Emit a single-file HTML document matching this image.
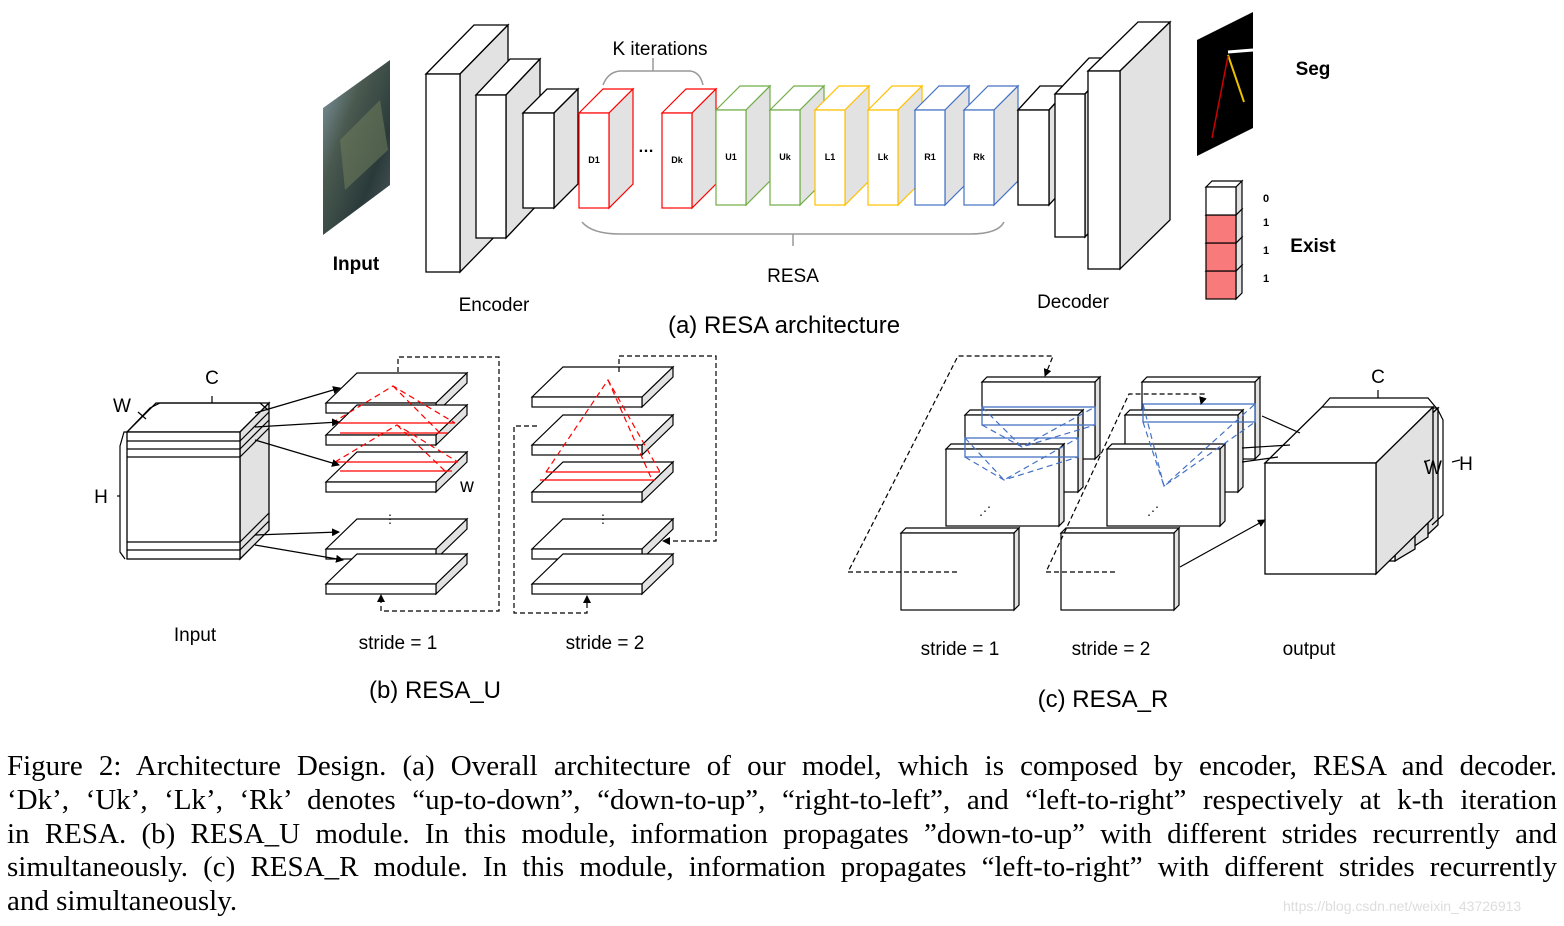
<!DOCTYPE html>
<html><head><meta charset="utf-8"><style>
html,body{margin:0;padding:0;background:#fff;}
#wrap{position:relative;width:1564px;height:926px;overflow:hidden;}
svg{position:absolute;left:0;top:0;}
svg text{font-family:"Liberation Sans",sans-serif;}
#cap{position:absolute;left:7px;top:750px;width:1550px;font-family:"Liberation Serif",serif;font-size:29px;line-height:33.8px;color:#000;}
#cap div{white-space:nowrap;text-align:justify;text-align-last:justify;}
#cap div.l{text-align-last:left;}
#wm{position:absolute;left:1283px;top:898px;font-family:"Liberation Sans",sans-serif;font-size:14px;color:#ddd;}
</style></head><body><div id="wrap">
<svg id="s" width="1564" height="926" xmlns="http://www.w3.org/2000/svg">
<defs>
<marker id="ar" markerWidth="8" markerHeight="8" refX="7" refY="4" orient="auto" markerUnits="userSpaceOnUse"><path d="M0,0 L8,4 L0,8 z" fill="#000"/></marker>
<linearGradient id="ph" x1="0" y1="0" x2="1" y2="1"><stop offset="0" stop-color="#8aa0b0"/><stop offset="0.35" stop-color="#4a5a50"/><stop offset="0.7" stop-color="#2a3a3a"/><stop offset="1" stop-color="#505a60"/></linearGradient>
</defs>
<g id="g"></g>
<polygon points="323,108 390,60 390,185 323,235" fill="url(#ph)"/>
<polygon points="340,140 380,100 388,150 345,190" fill="#6a7a5a" opacity="0.6"/>
<polygon points="1197,40 1253,12 1253,128 1197,156" fill="#000"/>
<line x1="1228" y1="52" x2="1253" y2="50" stroke="#fff" stroke-width="3"/>
<line x1="1228" y1="55" x2="1244" y2="102" stroke="#e8c000" stroke-width="2"/>
<line x1="1228" y1="56" x2="1212" y2="138" stroke="#c00" stroke-width="1.5"/>
<path d="M603,85 Q608,72 620,71 L690,71 Q700,72 703,85 M653,71 L653,58" fill="none" stroke="#999" stroke-width="1.5"/>
<path d="M582,222 Q592,234 620,234 L970,234 Q998,234 1004,222 M793,234 L793,246" fill="none" stroke="#999" stroke-width="1.5"/>
<text x="646" y="152" font-size="16" text-anchor="middle" font-weight="bold">…</text>
<text x="660" y="55" font-size="19" text-anchor="middle">K iterations</text>
<text x="793" y="282" font-size="19" text-anchor="middle">RESA</text>
<text x="356" y="270" font-size="19" text-anchor="middle" font-weight="bold">Input</text>
<text x="494" y="311" font-size="19" text-anchor="middle">Encoder</text>
<text x="1073" y="308" font-size="19" text-anchor="middle">Decoder</text>
<text x="784" y="333" font-size="24" text-anchor="middle">(a) RESA architecture</text>
<text x="1313" y="75" font-size="19" text-anchor="middle" font-weight="bold">Seg</text>
<text x="1313" y="252" font-size="19" text-anchor="middle" font-weight="bold">Exist</text>
<g font-size="11" font-weight="bold" text-anchor="middle"><text x="1266" y="202">0</text><text x="1266" y="226">1</text><text x="1266" y="254">1</text><text x="1266" y="282">1</text></g>
<text x="212" y="384" font-size="19" text-anchor="middle">C</text>
<text x="122" y="412" font-size="19" text-anchor="middle">W</text>
<text x="101" y="503" font-size="19" text-anchor="middle">H</text>
<text x="467" y="492" font-size="19" text-anchor="middle">w</text>
<text x="195" y="641" font-size="19" text-anchor="middle">Input</text>
<text x="398" y="649" font-size="19" text-anchor="middle">stride = 1</text>
<text x="605" y="649" font-size="19" text-anchor="middle">stride = 2</text>
<text x="435" y="698" font-size="24" text-anchor="middle">(b) RESA_U</text>
<text x="1378" y="383" font-size="19" text-anchor="middle">C</text>
<text x="1433" y="474" font-size="19" text-anchor="middle">W</text>
<text x="1466" y="470" font-size="19" text-anchor="middle">H</text>
<text x="960" y="655" font-size="19" text-anchor="middle">stride = 1</text>
<text x="1111" y="655" font-size="19" text-anchor="middle">stride = 2</text>
<text x="1309" y="655" font-size="19" text-anchor="middle">output</text>
<text x="1103" y="707" font-size="24" text-anchor="middle">(c) RESA_R</text>
</svg>
<div id="cap">
<div>Figure 2: Architecture Design. (a) Overall architecture of our model, which is composed by encoder, RESA and decoder.</div>
<div>‘Dk’, ‘Uk’, ‘Lk’, ‘Rk’ denotes “up-to-down”, “down-to-up”, “right-to-left”, and “left-to-right” respectively at k-th iteration</div>
<div>in RESA. (b) RESA_U module. In this module, information propagates ”down-to-up” with different strides recurrently and</div>
<div>simultaneously. (c) RESA_R module. In this module, information propagates “left-to-right” with different strides recurrently</div>
<div class="l">and simultaneously.</div>
</div>
<div id="wm">https://blog.csdn.net/weixin_43726913</div>
</div>
<script>
var o='';
function box(x,y,w,h,dx,dy,st,sw,ff){st=st||'#000';sw=sw||1.3;ff=ff||'#fff';
o+='<polygon points="'+x+','+y+' '+(x+dx)+','+(y-dy)+' '+(x+w+dx)+','+(y-dy)+' '+(x+w)+','+y+'" fill="#fff" stroke="'+st+'" stroke-width="'+sw+'"/>';
o+='<polygon points="'+(x+w)+','+y+' '+(x+w+dx)+','+(y-dy)+' '+(x+w+dx)+','+(y+h-dy)+' '+(x+w)+','+(y+h)+'" fill="#e2e2e2" stroke="'+st+'" stroke-width="'+sw+'"/>';
o+='<rect x="'+x+'" y="'+y+'" width="'+w+'" height="'+h+'" fill="'+ff+'" stroke="'+st+'" stroke-width="'+sw+'"/>';}
function L(a,b,c,d,st,extra){o+='<line x1="'+a+'" y1="'+b+'" x2="'+c+'" y2="'+d+'" stroke="'+(st||'#000')+'" stroke-width="1.2" '+(extra||'')+'/>';}
function P(pts,st,extra){o+='<polyline points="'+pts+'" fill="none" stroke="'+(st||'#000')+'" stroke-width="1.2" '+(extra||'')+'/>';}
function T(x,y,t,s){o+='<text x="'+x+'" y="'+y+'" font-size="'+(s||9)+'" font-weight="bold" text-anchor="middle">'+t+'</text>';}
box(426,74,34,198,48,49);
box(476,95,30,143,34,36);
box(523,113,31,95,24,24);
var cols=[[579,'#ff0000','D1',113],[662,'#ff0000','Dk',113],[716,'#70ad47','U1',110],[770,'#70ad47','Uk',110],[815,'#ffc000','L1',110],[868,'#ffc000','Lk',110],[915,'#4472c4','R1',110],[964,'#4472c4','Rk',110]];
cols.forEach(function(c){box(c[0],c[3],30,95,24,24,c[1],1.2);T(c[0]+15,c[3]+50,c[2]);});
box(1018,110,31,95,22,24);
box(1055,94,30,143,34,36);
box(1088,71,32,198,50,49);
var ec=['#fff','#f87a7a','#f87a7a','#f87a7a'];
for(var i=3;i>=0;i--){box(1206,187+i*28,30,28,6,6,'#000',1.2,ec[i]);}
box(127,432,113,127,29,29);
[441,449,457,542,550].forEach(function(y){L(127,y,240,y);L(240,y,269,y-29);});
P('127,432 124,432 120,446 120,552 125,559','#000','');
P('127,432 150,408 160,403 260,403 268,410','#000','');
L(212,396,212,403);L(117,496,120,496);L(138,412,146,419);
function slab(x,y){box(x,y,110,10,31,30,'#000',1.2);}
[403,435,482,549,584].forEach(function(y){slab(326,y);});
[397,445,492,549,584].forEach(function(y){slab(532,y);});
var rd='stroke-dasharray="6,4"';
P('332,423 393,386 455,423','#f00',rd);P('393,386 440,433','#f00',rd);
L(332,423,455,423,'#f00');L(340,433,448,433,'#f00');
P('335,462 397,425 458,462','#f00',rd);P('397,425 445,471','#f00',rd);
L(335,462,458,462,'#f00');L(340,471,452,471,'#f00');
P('546,472 608,380 660,472','#f00',rd);P('608,380 652,480','#f00',rd);
L(546,472,660,472,'#f00');L(540,480,655,480,'#f00');
var dd='stroke-dasharray="5,3"';
P('398,372 398,357 499,357 499,611 381,611 381,595','#000',dd+' marker-end="url(#ar)"');
P('619,372 619,356 716,356 716,541 663,541','#000',dd+' marker-end="url(#ar)"');
P('537,426 514,426 514,613 587,613 587,596','#000',dd+' marker-end="url(#ar)"');
[[255,413,340,388],[255,427,339,422],[255,440,339,465],[255,535,339,532],[255,545,343,560]].forEach(function(a){L(a[0],a[1],a[2],a[3],'#000','marker-end="url(#ar)"');});
o+='<text x="390" y="523" font-size="12" text-anchor="middle">⋮</text><text x="603" y="523" font-size="12" text-anchor="middle">⋮</text>';
function fr(x,y){box(x,y,113,77,5,5,'#000',1.2);}
fr(982,382);fr(965,415);fr(946,449);fr(901,533);
fr(1142,382);fr(1125,415);fr(1107,449);fr(1061,533);
o+='<text x="985" y="515" font-size="12" text-anchor="middle">⋰</text><text x="1153" y="515" font-size="12" text-anchor="middle">⋰</text>';
var bl='#4472c4';
o+='<rect x="982" y="407" width="113" height="18" fill="none" stroke="'+bl+'" stroke-width="1.3"/>';
o+='<rect x="965" y="438" width="113" height="19" fill="none" stroke="'+bl+'" stroke-width="1.3"/>';
o+='<rect x="1143" y="404" width="112" height="18" fill="none" stroke="'+bl+'" stroke-width="1.3"/>';
P('982,425 1022,447 1095,425','#4472c4',rd);P('982,407 1022,447 1095,407','#4472c4',rd);
P('965,457 1004,480 1078,457','#4472c4',rd);P('965,438 1004,480 1078,438','#4472c4',rd);
P('1143,422 1164,486 1255,422','#4472c4',rd);P('1143,404 1164,486 1255,404','#4472c4',rd);
P('957,572 848,572 958,356 1053,356 1045,376','#000',dd+' marker-end="url(#ar)"');
P('1115,572 1046,572 1129,394 1204,394 1201,404','#000',dd+' marker-end="url(#ar)"');
box(1325,420,100,117,13,12);
box(1310,432,100,117,18,12);
box(1295,444,100,117,20,12);
box(1265,463,111,111,57,56);
L(1262,416,1300,433);L(1242,448,1290,445);L(1242,462,1278,457);
L(1180,567,1265,520,'#000','marker-end="url(#ar)"');
P('1322,407 1330,398 1428,398 1438,410 1443,420 1443,515 1432,525','#000','');
L(1378,390,1378,398);L(1424,462,1430,460);L(1452,462,1460,460);
document.getElementById('g').innerHTML=o;
</script>
</body></html>
